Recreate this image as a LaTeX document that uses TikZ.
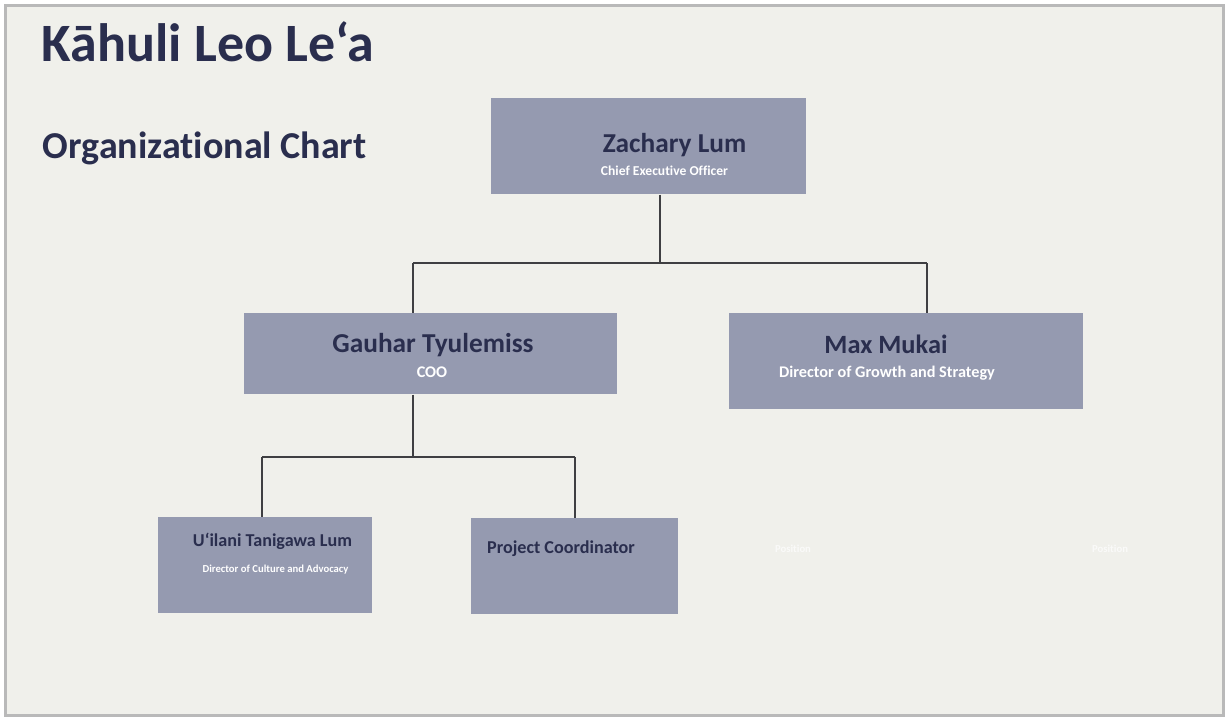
\documentclass[tikz,border=0pt]{standalone}
\usepackage{fontspec}
\setmainfont{Carlito}[Ligatures=NoCommon]
\definecolor{pagebg}{RGB}{240,240,235}
\definecolor{framegray}{RGB}{185,185,185}
\definecolor{boxfill}{RGB}{149,154,176}
\definecolor{inkblue}{RGB}{42,46,78}
\definecolor{linkgray}{RGB}{63,63,66}
\tikzset{every picture/.style={line width=0.75pt}}
\tikzset{
  rolebox/.style={draw=none,fill=boxfill,rectangle,inner sep=0pt},
  link/.style={draw=linkgray,line width=1.1pt},
  nametext/.style={font=\bfseries\fontsize{20.5}{24}\selectfont,text=inkblue,anchor=base},
  roletext/.style={font=\bfseries\fontsize{12.2}{14}\selectfont,text=white,anchor=base},
}

\begin{document}
\begin{tikzpicture}[x=0.75pt,y=0.75pt,yscale=-1,xscale=1]
	\useasboundingbox (0,0) rectangle (1225,717);

	%Shape: Frame
	\draw [draw=framegray,fill=pagebg,line width=2.4pt] (5.5,5.5) rectangle (1223.3,715.6) ;

	%Shape: Rectangle [ceo]
	\node [rolebox,minimum width=315*0.75pt,minimum height=96*0.75pt] (ceo) at (648.5,146) {};
	%Shape: Rectangle [coo]
	\node [rolebox,minimum width=373*0.75pt,minimum height=81*0.75pt] (coo) at (430.5,353.5) {};
	%Shape: Rectangle [growth]
	\node [rolebox,minimum width=354*0.75pt,minimum height=96*0.75pt] (growth) at (906,361) {};
	%Shape: Rectangle [culture]
	\node [rolebox,minimum width=214*0.75pt,minimum height=96*0.75pt] (culture) at (265,565) {};
	%Shape: Rectangle [coord]
	\node [rolebox,minimum width=207*0.75pt,minimum height=96*0.75pt] (coord) at (574.5,566) {};

	%Straight Lines
	\coordinate (top) at (660,263);
	\coordinate (topl) at (413,263);
	\coordinate (topr) at (927,263);
	\draw [link] (top |- ceo.south) -- (top) ;
	\draw [link] (topl) -- (topr) ;
	\draw [link] (topl) -- (topl |- coo.north) ;
	\draw [link] (topr) -- (topr |- growth.north) ;
	%Straight Lines
	\coordinate (mid) at (413,457);
	\coordinate (midl) at (262,457);
	\coordinate (midr) at (575,457);
	\draw [link] (mid |- coo.south) -- (mid) ;
	\draw [link] (midl) -- (midr) ;
	\draw [link] (midl) -- (midl |- culture.north) ;
	\draw [link] (midr) -- (midr |- coord.north) ;

	% Text Node
	\node [font=\bfseries\fontsize{40.5}{48}\selectfont,text=inkblue,anchor=base west] (title) at (37,62) {Kāhuli Leo Le‘a};
	% Text Node
	\node [font=\bfseries\fontsize{28.5}{34}\selectfont,text=inkblue,anchor=base west] (subtitle) at (38,158) {Organizational Chart};
	% Text Node
	\node [nametext] (ceoname) at (674.5,152) {Zachary Lum};
	\node [roletext,font=\bfseries\fontsize{10.2}{12}\selectfont] (ceorole) at (664.5,175) {Chief Executive Officer};
	% Text Node
	\node [nametext] (cooname) at (433,352) {Gauhar Tyulemiss};
	\node [roletext] (coorole) at (432,377) {COO};
	% Text Node
	\node [nametext,font=\bfseries\fontsize{19.8}{24}\selectfont] (growthname) at (886,353) {Max Mukai};
	\node [roletext] (growthrole) at (887,377) {Director of Growth and Strategy};
	% Text Node
	\node [nametext,font=\bfseries\fontsize{13.6}{16}\selectfont] (culturename) at (272.5,546) {U‘ilani Tanigawa Lum};
	\node [roletext,font=\bfseries\fontsize{8}{10}\selectfont] (culturerole) at (275.5,572) {Director of Culture and Advocacy};
	% Text Node
	\node [nametext,font=\bfseries\fontsize{13.6}{16}\selectfont] (coordname) at (561,553) {Project Coordinator};
	% Text Node
	\node [roletext,font=\bfseries\fontsize{8}{10}\selectfont,text=white!70!pagebg] (posa) at (793,552) {Position};
	\node [roletext,font=\bfseries\fontsize{8}{10}\selectfont,text=white!70!pagebg] (posb) at (1110,552) {Position};

\end{tikzpicture}
\end{document}
